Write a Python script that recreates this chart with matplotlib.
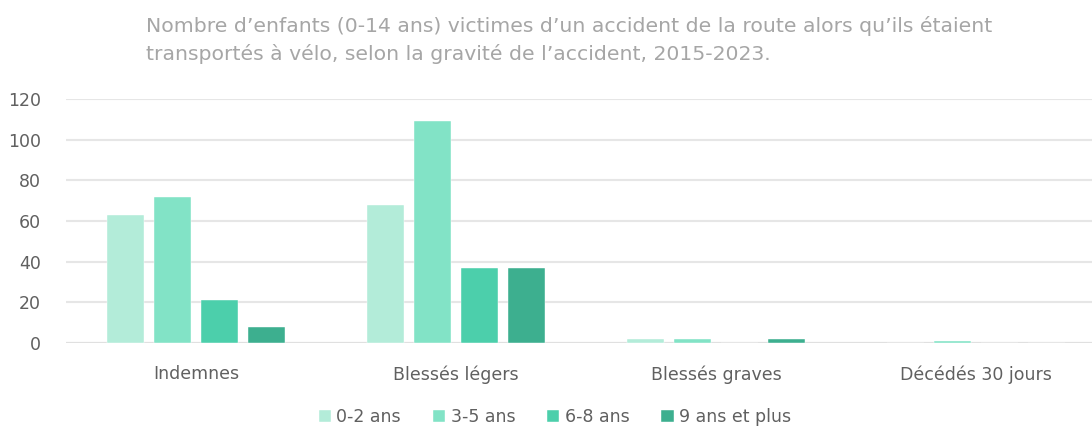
import matplotlib.pyplot as plt
import numpy as np

# donnees
categories = ['Indemnes', 'Blessés légers', 'Blessés graves', 'Décédés 30 jours']
groupes = ['0-2 ans', '3-5 ans', '6-8 ans', '9 ans et plus']
v_0_2 = [63, 68, 2, 0]
v_3_5 = [72, 109, 2, 1]
v_6_8 = [21, 37, 0, 0]
v_9_plus = [8, 37, 2, 0]
yticks = [0, 20, 40, 60, 80, 100, 120]

couleurs = ['#b3ecd9', '#82e3c6', '#4ccfab', '#3daf8f']

plt.rcParams['font.family'] = ['DejaVu Sans']

fig = plt.figure(figsize=(10.92, 4.28), dpi=100)
ax = fig.add_axes([66/1092, 1-343/428, 1040/1092, 244/428])

x = np.arange(len(categories))
larg = 0.142
pas = 0.181
series = [v_0_2, v_3_5, v_6_8, v_9_plus]
for i, (vals, lab) in enumerate(zip(series, groupes)):
    ax.bar(x + (i - 1.5)*pas, vals, larg, color=couleurs[i], label=lab,
           edgecolor='white', linewidth=0.3, zorder=3)

ax.set_xlim(-0.5, 3.5)
ax.set_ylim(0, 120)
ax.set_yticks(yticks)
ax.set_xticks(x)
ax.set_xticklabels(categories)
ax.grid(axis='y', color='#e6e6e6', linewidth=1.5, zorder=0)
ax.tick_params(length=0, labelsize=12.5, colors='#606060')
ax.tick_params(axis='x', pad=16)
ax.tick_params(axis='y', pad=18)
for s in ax.spines.values():
    s.set_visible(False)
ax.axhline(0, color='#e0e0e0', lw=1.5, zorder=2)

fig.text(146/1092, 1-40/428,
         "Nombre d’enfants (0-14 ans) victimes d’un accident de la route alors qu’ils étaient\n"
         "transportés à vélo, selon la gravité de l’accident, 2015-2023.",
         fontsize=14.7, color='#a6a6a6', va='center', ha='left', linespacing=1.45)

fig.legend(loc='center', bbox_to_anchor=(555/1092, 1-417/428), ncol=4, frameon=False,
           fontsize=12.5, labelcolor='#606060', handlelength=0.7, handleheight=0.7,
           handletextpad=0.3, columnspacing=1.85)

fig.savefig('out.png', dpi=100)
